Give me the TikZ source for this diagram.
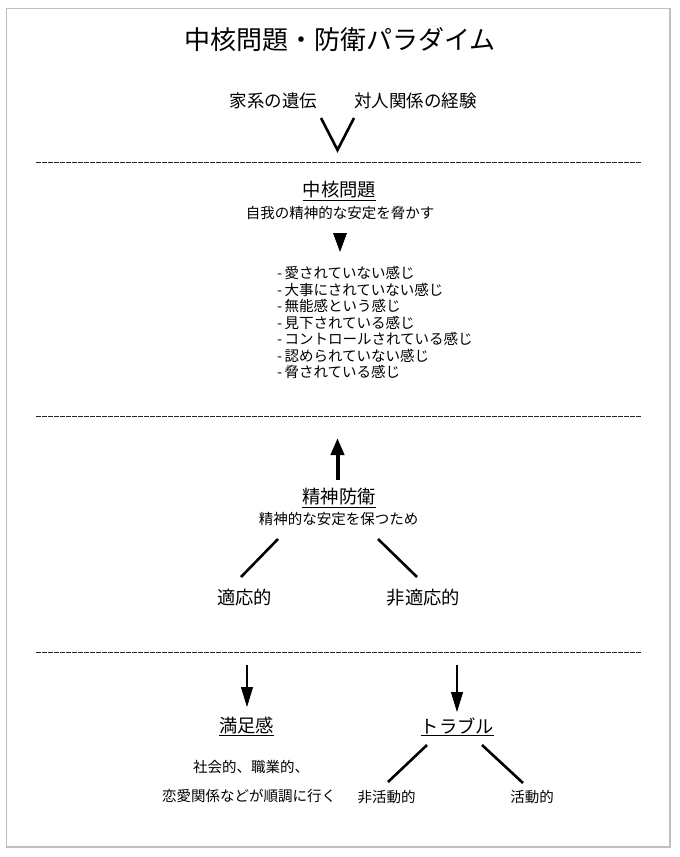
\documentclass[tikz,border=0pt]{standalone}
\usepackage{fontspec}
\newfontfamily\jp{Noto Sans CJK JP}
\usetikzlibrary{arrows.meta}
\newcommand\lidash{-\hspace{2.5pt}}
\tikzset{
  base/.style={inner sep=0pt, outer sep=0pt, text=black},
  ttl/.style={base, font=\jp\fontsize{26}{30}\selectfont},
  src/.style={base, font=\jp\fontsize{17.5}{20}\selectfont},
  head/.style={base, font=\jp\fontsize{18.3}{21}\selectfont},
  small/.style={base, font=\jp\fontsize{14.5}{16.5}\selectfont},
  sep/.style={line width=1pt, black!85, dash pattern=on 4.5pt off 1.5pt},
  thick line/.style={line width=2.6pt, line cap=butt},
  bigup/.style={line width=4pt, -{Triangle[width=13pt,length=17pt]}},
  thindown/.style={line width=1.1pt, -{Triangle[width=12pt,length=20pt]}},
}
\begin{document}
\begin{tikzpicture}[x=1pt,y=-1pt]
\useasboundingbox (0,0) rectangle (680,857);
\draw[black!25, line width=1.2pt] (6.5,8.5) rectangle (670,847);

% title
\node[ttl] (title) at (340,40) {中核問題・防衛パラダイム};

% sources
\node[src] (src1) at (273.5,101) {家系の遺伝};
\node[src] (src2) at (415.5,101) {対人関係の経験};
\coordinate (vl) at (321,118);
\coordinate (vb) at (337.5,150);
\coordinate (vr) at (354,118);
\draw[thick line, line join=miter] (vl) -- (vb) -- (vr);

% separators
\coordinate (s1a) at (36,162); \coordinate (s1b) at (641,162);
\coordinate (s2a) at (36,416); \coordinate (s2b) at (641,416);
\coordinate (s3a) at (36,652); \coordinate (s3b) at (641,652);
\draw[sep] (s1a) -- (s1b);
\draw[sep] (s2a) -- (s2b);
\draw[sep] (s3a) -- (s3b);

% core problem
\node[head] (h1) at (339.5,191) {\underline{中核問題}};
\node[small] (d1) at (340,213) {自我の精神的な安定を脅かす};
\coordinate (tr1) at (333,233);
\coordinate (tr2) at (347,233);
\coordinate (tr3) at (340,252);
\fill (tr1) -- (tr2) -- (tr3) -- cycle;
\node[small, anchor=west, align=left] (list) at (277,322.5) {%
\lidash 愛されていない感じ\\
\lidash 大事にされていない感じ\\
\lidash 無能感という感じ\\
\lidash 見下されている感じ\\
\lidash コントロールされている感じ\\
\lidash 認められていない感じ\\
\lidash 脅されている感じ};

% defense
\coordinate (uptip) at (337.5,438);
\coordinate (upbase) at (337.5,480);
\draw[bigup] (upbase) -- (uptip);
\node[head] (h2) at (339,498) {\underline{精神防衛}};
\node[small] (d2) at (338.5,519) {精神的な安定を保つため};
\node[head] (a1) at (244.5,598) {適応的};
\node[head] (a2) at (423.5,598) {非適応的};
\coordinate (l1a) at (278,539); \coordinate (l1b) at (241,577);
\coordinate (l2a) at (378,539); \coordinate (l2b) at (417,577);
\draw[thick line] (l1a) -- (l1b);
\draw[thick line] (l2a) -- (l2b);

% outcomes
\coordinate (ar1a) at (247,665); \coordinate (ar1b) at (247,707);
\coordinate (ar2a) at (457,665); \coordinate (ar2b) at (457,712);
\draw[thindown] (ar1a) -- (ar1b);
\draw[thindown] (ar2a) -- (ar2b);
\node[head] (sat) at (246.5,726) {\underline{満足感}};
\node[head] (trb) at (457.5,727) {\underline{トラブル}};
\node[small] (sat1) at (251,767) {社会的、職業的、};
\node[small] (sat2) at (249,796) {恋愛関係などが順調に行く};
\node[small] (t1) at (386.5,797) {非活動的};
\node[small] (t2) at (532,797) {活動的};
\coordinate (m1a) at (427,745); \coordinate (m1b) at (388,782);
\coordinate (m2a) at (482,745); \coordinate (m2b) at (523,783);
\draw[thick line] (m1a) -- (m1b);
\draw[thick line] (m2a) -- (m2b);
\end{tikzpicture}
\end{document}
